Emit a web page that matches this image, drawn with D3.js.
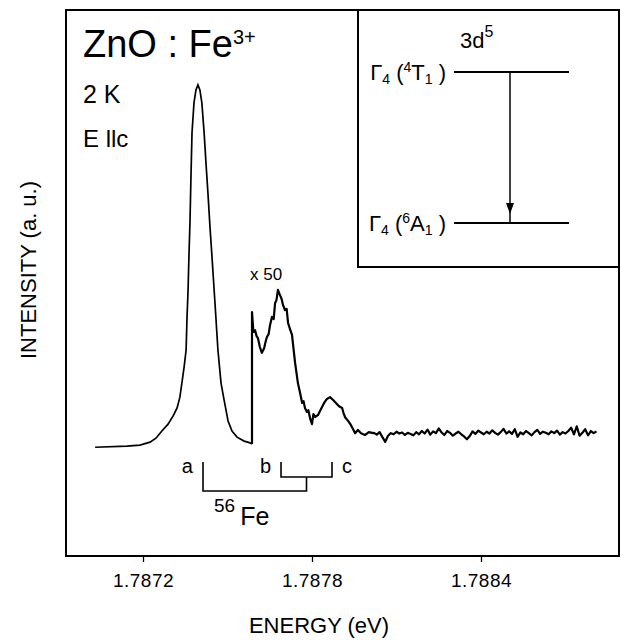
<!DOCTYPE html>
<html>
<head>
<meta charset="utf-8">
<script src="https://cdn.jsdelivr.net/npm/d3@7"></script>
<style>
  body { margin: 0; background: #fff; }
  svg { display: block; font-family: "Liberation Sans", Arial, sans-serif; }
</style>
</head>
<body>
<script>
// main zero-phonon line (a), as recorded
const peakE = [1.787030, 1.787143, 1.787189, 1.787225, 1.787246, 1.787267, 1.787289, 1.787307,
  1.787321, 1.787331, 1.787338, 1.787346, 1.787353, 1.787356, 1.787360, 1.787363, 1.787367,
  1.787370, 1.787374, 1.787381, 1.787388, 1.787395, 1.787402, 1.787409, 1.787417, 1.787424,
  1.787431, 1.787438, 1.787445, 1.787456, 1.787466, 1.787477, 1.787488, 1.787502, 1.787516,
  1.787534, 1.787559, 1.787580, 1.787587];
const peakI = [-0.6, -0.3, 0, 0.8, 1.9, 3.9, 5.8, 8.1,
  10.3, 13.3, 17.2, 21.7, 26.4, 34.7, 43.1, 52.2, 62.5,
  73.6, 86.7, 95.0, 98.6, 100, 98.6, 95.0, 86.7, 77.8,
  69.4, 60.3, 52.2, 38.9, 26.4, 17.2, 12.5, 6.7, 3.9,
  2.2, 1.1, 0.6, 0.3];

// x 50 part (lines b, c)
const x50E = [1.787587, 1.787587, 1.787592, 1.787598, 1.787603, 1.787608, 1.787615, 1.787622,
  1.787630, 1.787635, 1.787640, 1.787646, 1.787651, 1.787658, 1.787664, 1.787669, 1.787674,
  1.787679, 1.787686, 1.787692, 1.787697, 1.787704, 1.787710, 1.787715, 1.787722, 1.787729,
  1.787740, 1.787750, 1.787758, 1.787765, 1.787770, 1.787775, 1.787782, 1.787787, 1.787793,
  1.787800, 1.787805, 1.787811, 1.787821, 1.787832, 1.787843, 1.787853, 1.787864, 1.787875,
  1.787885, 1.787896, 1.787907, 1.787912, 1.787917, 1.787928, 1.787938, 1.787946, 1.787953,
  1.787963, 1.787974, 1.787988, 1.788002, 1.788017];
const x50I = [0.3, 36.9, 31.4, 31.9, 30.3, 29.7, 27.2, 25.6,
  26.9, 28.6, 30.0, 30.8, 33.3, 35.6, 35.0, 39.4, 40.3,
  43.1, 41.7, 40.6, 38.9, 37.5, 37.8, 33.9, 32.2, 30.6,
  22.8, 17.2, 14.4, 11.7, 12.2, 10.3, 9.2, 9.7, 7.5,
  5.8, 8.6, 7.8, 8.3, 10.0, 11.7, 12.8, 13.3, 12.5,
  11.7, 10.8, 10.3, 8.9, 7.8, 6.7, 5.6, 4.4, 3.3,
  4.2, 3.3, 2.8, 3.6, 3.3];

// noisy background
const noiseE = [1.78802, 1.78803, 1.78804, 1.78805, 1.78806, 1.78807, 1.78808, 1.78809, 1.78810,
  1.78811, 1.78812, 1.78813, 1.78814, 1.78815, 1.78816, 1.78817, 1.78818, 1.78819, 1.78820,
  1.78821, 1.78822, 1.78823, 1.78824, 1.78825, 1.78826, 1.78827, 1.78828, 1.78829, 1.78830,
  1.78831, 1.78832, 1.78833, 1.78834, 1.78835, 1.78836, 1.78837, 1.78838, 1.78839, 1.78840,
  1.78841, 1.78842, 1.78843, 1.78844, 1.78845, 1.78846, 1.78847, 1.78848, 1.78849, 1.78850,
  1.78851, 1.78852, 1.78853, 1.78854, 1.78855, 1.78856, 1.78857, 1.78858, 1.78859, 1.78860,
  1.78861, 1.78862, 1.78863, 1.78864, 1.78865, 1.78866, 1.78867, 1.78868, 1.78869, 1.78870,
  1.78871, 1.78872, 1.78873, 1.78874, 1.78875, 1.78876, 1.78877, 1.78878, 1.78879, 1.78880,
  1.78881];
const noiseI = [3.4, 2.9, 3.6, 2.2, 0.9, 2.6, 3.3, 3.0, 3.7,
  3.2, 3.5, 2.8, 3.4, 3.1, 2.7, 3.6, 3.0, 3.9, 3.2,
  4.3, 2.9, 3.8, 3.3, 4.6, 3.5, 2.8, 3.9, 3.4, 2.6,
  3.2, 3.7, 3.0, 2.4, 1.6, 2.5, 3.8, 3.1, 4.0, 3.5,
  3.0, 3.7, 3.2, 4.1, 3.4, 2.9, 3.6, 4.5, 3.2, 3.8,
  3.1, 4.4, 2.3, 3.5, 3.0, 3.9, 3.3, 2.7, 3.6, 4.2,
  3.1, 3.7, 3.4, 3.0, 3.8, 3.3, 4.0, 2.9, 3.6, 3.2,
  3.9, 4.8, 3.0, 5.2, 2.6, 3.4, 4.4, 2.7, 3.9, 3.3,
  3.8];

// line positions for the 56Fe components
const lineNames = ['a', 'b', 'c'];
const lineE = [1.787413, 1.787690, 1.787871];

const tickValues = [1.7872, 1.7878, 1.7884];

const MARGIN = {top: 10, right: 2, bottom: 84, left: 66},
    W = 621, H = 640;

const x = d3.scaleLinear()
    .domain([1.7869266, 1.78889])
    .range([MARGIN.left, W - MARGIN.right]);
const y = d3.scaleLinear()
    .domain([-30.8, 120.8])
    .range([H - MARGIN.bottom, MARGIN.top]);

const svg = d3.select('body').append('svg')
    .attr('width', W)
    .attr('height', H);

const line = d3.line()
    .x(d => x(d[0]))
    .y(d => y(d[1]));

// spectrum
svg.append('path')
    .datum(peakE.map((e, i) => [e, peakI[i]]))
    .attr('fill', 'none')
    .attr('stroke', '#000')
    .attr('stroke-width', 1.7)
    .attr('d', line);

svg.append('path')
    .datum(x50E.map((e, i) => [e, x50I[i]]).concat(noiseE.map((e, i) => [e, noiseI[i]])))
    .attr('fill', 'none')
    .attr('stroke', '#000')
    .attr('stroke-width', 2.2)
    .attr('stroke-linejoin', 'round')
    .attr('d', line);

svg.append('text')
    .attr('x', x(x50E[0]) - 2)
    .attr('y', 280)
    .attr('font-size', 17)
    .text('x 50');

// frame
svg.append('rect')
    .attr('x', MARGIN.left)
    .attr('y', MARGIN.top)
    .attr('width', W - MARGIN.left - MARGIN.right)
    .attr('height', H - MARGIN.top - MARGIN.bottom)
    .attr('fill', 'none')
    .attr('stroke', '#000')
    .attr('stroke-width', 2);

// x axis
const xAxis = svg.append('g')
    .attr('transform', `translate(0,${H - MARGIN.bottom})`)
    .call(d3.axisBottom(x).tickValues(tickValues).tickSize(6).tickPadding(12).tickFormat(d3.format('.4f')));
xAxis.select('.domain').remove();
xAxis.selectAll('line').attr('stroke-width', 1.3);
xAxis.selectAll('text')
    .attr('font-size', 19)
    .attr('letter-spacing', 0.5)
    .attr('font-family', '"Liberation Sans", Arial, sans-serif');

svg.append('text')
    .attr('x', 319)
    .attr('y', 633)
    .attr('text-anchor', 'middle')
    .attr('font-size', 22)
    .text('ENERGY (eV)');

svg.append('text')
    .attr('transform', 'translate(36,270) rotate(-90)')
    .attr('text-anchor', 'middle')
    .attr('font-size', 22)
    .text('INTENSITY (a. u.)');

// sample labels
const title = svg.append('text')
    .attr('x', 83)
    .attr('y', 57)
    .attr('font-size', 38)
    .text('ZnO : Fe');
title.append('tspan')
    .attr('font-size', 20)
    .attr('dy', -13)
    .text('3+');

svg.append('text').attr('x', 83).attr('y', 103).attr('font-size', 25).text('2 K');
svg.append('text').attr('x', 83).attr('y', 147).attr('font-size', 24).text('E llc');

// 56Fe fine-structure bracket
const yTop = 462, yMid = 477, yLow = 491;
const xa = x(lineE[0]), xb = x(lineE[1]), xc = x(lineE[2]), xbc = (xb + xc) / 2;
const br = svg.append('g').attr('fill', 'none').attr('stroke', '#000').attr('stroke-width', 1.6);
br.append('path').attr('d', `M${xa},${yTop}V${yLow}H${xbc}V${yMid}`);
br.append('path').attr('d', `M${xb},${yTop}V${yMid}H${xc}V${yTop}`);

svg.selectAll('.lineLabel')
    .data(lineNames)
    .join('text')
    .attr('class', 'lineLabel')
    .attr('x', (d, i) => i === 2 ? x(lineE[i]) + 10 : x(lineE[i]) - 10)
    .attr('y', 473)
    .attr('text-anchor', (d, i) => i === 2 ? 'start' : 'end')
    .attr('font-size', 20)
    .text(d => d);

const fe = svg.append('text').attr('x', 214).attr('y', 525).attr('font-size', 25);
fe.append('tspan').attr('font-size', 19).attr('dy', -13).text('56');
fe.append('tspan').attr('dy', 13).attr('dx', 5).text('Fe');

// inset: level scheme
const inset = svg.append('g');
inset.append('path')
    .attr('d', `M358,${MARGIN.top}V267H${W - MARGIN.right}`)
    .attr('fill', 'none')
    .attr('stroke', '#000')
    .attr('stroke-width', 2);

const d5 = inset.append('text').attr('x', 460).attr('y', 48).attr('font-size', 22).text('3d');
d5.append('tspan').attr('font-size', 16).attr('dy', -11).text('5');

const levelY = [72, 223];
const levelSup = ['4', '6'];
const levelTerm = ['T', 'A'];
inset.selectAll('.level')
    .data(levelY)
    .join('line')
    .attr('class', 'level')
    .attr('x1', 454).attr('x2', 569)
    .attr('y1', d => d).attr('y2', d => d)
    .attr('stroke', '#000')
    .attr('stroke-width', 2);

levelY.forEach((ly, i) => {
  const t = inset.append('text').attr('x', 446).attr('y', ly + 8).attr('font-size', 22).attr('text-anchor', 'end');
  t.append('tspan').text('Γ');
  t.append('tspan').attr('font-size', 14).attr('dy', 4).text('4');
  t.append('tspan').attr('dy', -4).text(' (');
  t.append('tspan').attr('font-size', 14).attr('dy', -8).text(levelSup[i]);
  t.append('tspan').attr('dy', 8).text(levelTerm[i]);
  t.append('tspan').attr('font-size', 14).attr('dy', 4).text('1');
  t.append('tspan').attr('dy', -4).text(' )');
});

inset.append('line')
    .attr('x1', 510).attr('x2', 510)
    .attr('y1', levelY[0]).attr('y2', levelY[1])
    .attr('stroke', '#000')
    .attr('stroke-width', 1.5);
inset.append('path')
    .attr('d', `M506,203L514,203L510,214Z`)
    .attr('fill', '#000');
</script>
</body>
</html>
